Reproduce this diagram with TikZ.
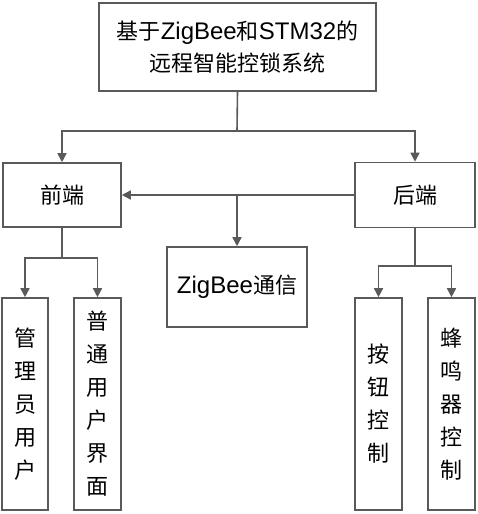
\documentclass[tikz,border=0pt]{standalone}
\usepackage{fontspec}
\setmainfont{Liberation Sans}
\newfontfamily\cjk{Noto Sans CJK SC}
\usetikzlibrary{arrows.meta}
\definecolor{linegray}{RGB}{90,90,90}
\newcommand\zlat[1]{{\rmfamily\fontsize{24}{32}\selectfont #1}}
\begin{document}
\begin{tikzpicture}[x=1pt,y=-1pt]
                \tikzstyle{box}=[draw=linegray, line width=1.6pt, inner sep=0pt, align=center, font=\cjk\fontsize{22}{32}\selectfont]
                \tikzstyle{tall}=[box, minimum height=212pt, font=\cjk\fontsize{22}{33}\selectfont]
                \tikzstyle{link}=[draw=linegray, line width=1.6pt]
                \tikzstyle{arr}=[link, -{Triangle[width=9pt,length=9pt]}]
                \useasboundingbox (0,0) rectangle (478,514);
                % top title
                \node [box, minimum width=277pt, minimum height=88pt] (title) at (237.5,47) {基于\zlat{ZigBee}和\zlat{STM32}的\\远程智能控锁系统};
                % second level
                \node [box, minimum width=118pt, minimum height=64pt] (front) at (62,195) {前端};
                \node [box, minimum width=120pt, minimum height=65pt] (back) at (415,195) {后端};
                \node [box, minimum width=140pt, minimum height=80pt] (zigbee) at (237,287) {\zlat{ZigBee}通信};
                % leaves
                \node [tall, minimum width=46pt] (admin) at (25,404) {管\\理\\员\\用\\户};
                \node [tall, minimum width=47pt] (user) at (97.5,404) {普\\通\\用\\户\\界\\面};
                \node [tall, minimum width=47pt] (button) at (378.5,404) {按\\钮\\控\\制};
                \node [tall, minimum width=47pt] (buzzer) at (451.5,404) {蜂\\鸣\\器\\控\\制};
                % junctions
                \coordinate (split) at (237,131);
                \coordinate (mid) at (237,195);
                \coordinate (fsplit) at (62,258);
                \coordinate (bsplit) at (415,266);
                % connectors
                \draw [link] (title.south) -- (split);
                \draw [arr] (split) -| (front.north);
                \draw [arr] (split) -| (back.north);
                \draw [arr] (back.west) -- (front.east);
                \draw [arr] (mid) -- (zigbee.north);
                \draw [link] (front.south) -- (fsplit);
                \draw [arr] (fsplit) -| (admin.north);
                \draw [arr] (fsplit) -| (user.north);
                \draw [link] (back.south) -- (bsplit);
                \draw [arr] (bsplit) -| (button.north);
                \draw [arr] (bsplit) -| (buzzer.north);
            \end{tikzpicture}
\end{document}
